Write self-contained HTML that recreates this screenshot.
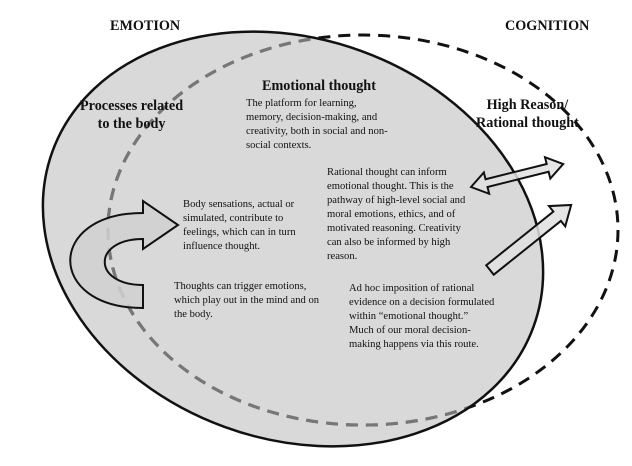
<!DOCTYPE html>
<html><head><meta charset="utf-8"><style>
html,body{margin:0;padding:0;overflow:hidden}
body{background:#fff;width:632px;height:466px;position:relative;font-family:"Liberation Serif",serif;color:#111}
svg{position:absolute;left:0;top:0}
.t{position:absolute;font-size:10.6px;line-height:14px;white-space:nowrap}
.h{position:absolute;font-weight:bold;font-size:14.2px;line-height:18px;white-space:nowrap;text-align:center}
</style></head><body>
<svg width="632" height="466">
<defs><clipPath id="c"><ellipse cx="293" cy="239" rx="256" ry="200" transform="rotate(20 293 239)"/></clipPath></defs>
<ellipse cx="293" cy="239" rx="256" ry="200" transform="rotate(20 293 239)" fill="#d9d9d9"/>
<ellipse cx="363" cy="230" rx="255" ry="195" fill="none" stroke="#111" stroke-width="3" stroke-dasharray="12 8"/>
<ellipse cx="363" cy="230" rx="255" ry="195" fill="#d9d9d9" stroke="#777" stroke-width="3.2" stroke-dasharray="12 8" clip-path="url(#c)"/>
<ellipse cx="293" cy="239" rx="256" ry="200" transform="rotate(20 293 239)" fill="none" stroke="#111" stroke-width="2.5"/>
<path d="M143,213 C46,213 46,308 143,308 L143,285 C92,285 92,239 143,239 L143,249 L178,225 L143,201 Z" fill="#d0d0d0" fill-opacity="0.85" stroke="#111" stroke-width="2"/>
<g transform="translate(471,187) rotate(-14)">
<path d="M0,0 L16,-11 L16,-4 L79,-4 L79,-11 L95,0 L79,11 L79,4 L16,4 L16,11 Z" fill="#e0e0e0" fill-opacity="0.85" stroke="#111" stroke-width="2"/>
</g>
<g transform="translate(490,270) rotate(-38.7)">
<path d="M0,-6 L86,-6 L86,-13 L104,0 L86,13 L86,6 L0,6 Z" fill="#e0e0e0" fill-opacity="0.85" stroke="#111" stroke-width="2"/>
</g>
</svg>
<div class="h" style="left:110px;top:17px">EMOTION</div>
<div class="h" style="left:505px;top:17px">COGNITION</div>
<div class="h" style="left:80px;top:97px">Processes related<br>to the body</div>
<div class="h" style="left:262px;top:77px">Emotional thought</div>
<div class="h" style="left:476px;top:96px">High Reason/<br>Rational thought</div>
<div class="t" style="left:246px;top:97px">The platform for learning,<br>memory, decision-making, and<br>creativity, both in social and non-<br>social contexts.</div>
<div class="t" style="left:183px;top:198px">Body sensations, actual or<br>simulated, contribute to<br>feelings, which can in turn<br>influence thought.</div>
<div class="t" style="left:174px;top:280px">Thoughts can trigger emotions,<br>which play out in the mind and on<br>the body.</div>
<div class="t" style="left:327px;top:166px">Rational thought can inform<br>emotional thought. This is the<br>pathway of high-level social and<br>moral emotions, ethics, and of<br>motivated reasoning. Creativity<br>can also be informed by high<br>reason.</div>
<div class="t" style="left:349px;top:282px">Ad hoc imposition of rational<br>evidence on a decision formulated<br>within “emotional thought.”<br>Much of our moral decision-<br>making happens via this route.</div>
</body></html>
